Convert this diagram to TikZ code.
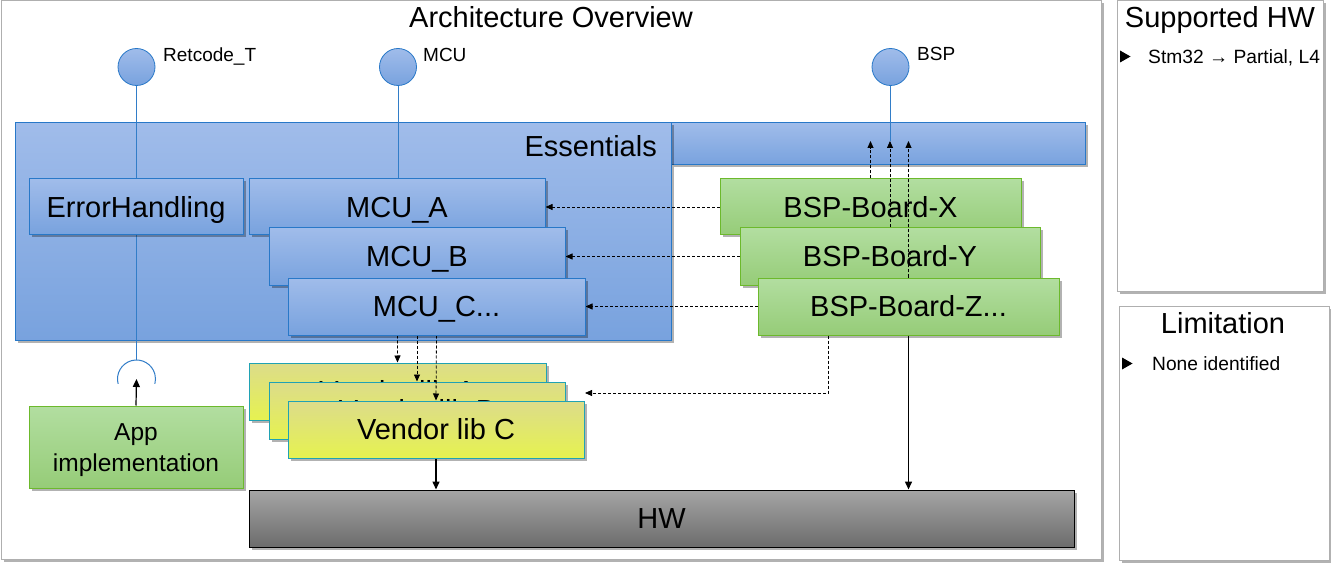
\documentclass[tikz,border=0pt]{standalone}
\usepackage{fontspec}
\setmainfont{Liberation Sans}
\usetikzlibrary{arrows.meta,shadows,calc}
\pgfdeclarelayer{bg}\pgfdeclarelayer{top}
\pgfsetlayers{bg,main,top}
\definecolor{bluetop}{RGB}{160,188,234}
\definecolor{bluebot}{RGB}{120,162,222}
\definecolor{blueedge}{RGB}{40,120,200}
\definecolor{lline}{RGB}{50,125,200}
\definecolor{greentop}{RGB}{178,222,160}
\definecolor{greenbot}{RGB}{150,204,120}
\definecolor{greenedge}{RGB}{108,185,44}
\definecolor{yeltop}{RGB}{220,220,138}
\definecolor{yelbot}{RGB}{230,242,80}
\definecolor{yeledge}{RGB}{32,162,180}
\definecolor{graytop}{RGB}{165,165,165}
\definecolor{graybot}{RGB}{108,108,108}
\definecolor{framegray}{RGB}{175,175,175}
\begin{document}
\begin{tikzpicture}[x=1pt,y=-1pt,
  shad/.style={drop shadow={shadow xshift=2.5pt,shadow yshift=-2.5pt,opacity=0.3,fill=black}},
  big/.style={font=\fontsize{29}{30}\selectfont},
  mid/.style={font=\fontsize{19.2}{23}\selectfont},
  small/.style={font=\fontsize{19}{22}\selectfont},
  lbl/.style={inner sep=0pt},
  box/.style={big,shad,draw,line width=1pt,inner sep=0pt,minimum height=56pt,text height=20.8pt,text depth=0pt,align=center},
  bluebox/.style={box,draw=blueedge,top color=bluetop,bottom color=bluebot},
  greenbox/.style={box,draw=greenedge,top color=greentop,bottom color=greenbot},
  yelbox/.style={box,draw=yeledge,top color=yeltop,bottom color=yelbot},
  graybox/.style={box,draw=black,top color=graytop,bottom color=graybot},
  frame/.style={shad,draw=framegray,fill=white,line width=1pt,inner sep=0pt},
  lolli/.style={circle,draw=blueedge,line width=0.8pt,top color=bluetop,bottom color=bluebot,minimum size=37pt,inner sep=0pt},
  lconn/.style={draw=lline,line width=1pt},
  darrow/.style={draw=black,line width=0.8pt,dash pattern=on 3pt off 2pt,-{Triangle[length=7pt,width=6pt]}},
  sarrow/.style={draw=black,line width=1.5pt,-{Triangle[length=8pt,width=7pt]}},
  bullet/.style={fill=black}
]
\useasboundingbox (0,0) rectangle (1331,564);

\begin{pgfonlayer}{bg}
  \node[frame,minimum width=1100pt,minimum height=558pt] (mainframe) at (551,280) {};
  \node[frame,minimum width=206pt,minimum height=290pt] (supframe) at (1220,146) {};
  \node[frame,minimum width=210pt,minimum height=254pt] (limframe) at (1224,433) {};
  \node[bluebox,minimum width=414pt,minimum height=42pt] (strip) at (878,144) {};
  \node[bluebox,minimum width=656pt,minimum height=217pt] (ess) at (343,231.5) {};
\end{pgfonlayer}

% titles
\node[big,lbl,anchor=base] (title) at (551,28) {Architecture Overview};
\node[big,lbl,anchor=base] (suptitle) at (1220,28) {Supported HW};
\node[big,lbl,anchor=base] (limtitle) at (1223,333) {Limitation};
\node[big,lbl,anchor=base east] (esslbl) at (657,157) {Essentials};
\fill[bullet] (1120,50.5) -- (1130.5,56.5) -- (1120,62.5) -- cycle;
\node[mid,lbl,anchor=base west] (supitem) at (1148,64) {Stm32 → Partial, L4};
\fill[bullet] (1122,357.5) -- (1132.5,363.5) -- (1122,369.5) -- cycle;
\node[mid,lbl,anchor=base west] (limitem) at (1152,370) {None identified};

% upper layer boxes
\begin{pgfonlayer}{top}
  \node[bluebox,minimum width=214pt] (eh) at (136,207) {ErrorHandling};
  \node[bluebox,minimum width=296pt] (mcua) at (397,207) {MCU\_A};
  \node[bluebox,minimum width=296pt,minimum height=57pt] (mcub) at (417,256.5) {MCU\_B};
  \node[bluebox,minimum width=297pt,minimum height=57pt] (mcuc) at (436.5,306.5) {MCU\_C...};
\end{pgfonlayer}

% lollipops
\node[lolli] (retl) at (136.5,67) {};
\node[lolli] (mcul) at (398,67) {};
\node[lolli] (bspl) at (890.5,67) {};
\node[small,lbl,anchor=base west] (retlbl) at (163,62) {Retcode\_T};
\node[small,lbl,anchor=base west] (mcullbl) at (423,62) {MCU};
\node[small,lbl,anchor=base west] (bsplbl) at (917,61) {BSP};

% vendor libs
\node[yelbox,minimum width=297pt,minimum height=57pt] (venda) at (397.5,391.5) {Vendor lib A};
\node[yelbox,minimum width=296pt,minimum height=57pt] (vendb) at (417,410.5) {Vendor lib B};
\node[yelbox,minimum width=296pt,minimum height=57pt] (vendc) at (436,429.5) {Vendor lib C};

% BSP boards
\node[greenbox,minimum width=301pt] (bspx) at (870.5,207) {BSP-Board-X};
\node[greenbox,minimum width=300pt,minimum height=57pt] (bspy) at (890,256.5) {BSP-Board-Y};
\node[greenbox,minimum width=301pt,minimum height=57pt] (bspz) at (908.5,306.5) {BSP-Board-Z...};

% HW and app
\node[graybox,minimum width=825pt,minimum height=57pt] (hw) at (661.5,518.5) {HW};
\node[greenbox,minimum width=214pt,minimum height=82pt,font=\fontsize{24.5}{31}\selectfont,text height=48.5pt,text depth=0pt] (app) at (136,447) {App\\implementation};

% coordinates
\coordinate (sock) at (136.5,379);
\coordinate (socktop) at (136.5,360);
\coordinate (bspin) at (890.5,141);
\coordinate (vendin) at (585,393);

% lollipop connectors
\draw[lconn] (retl.south) -- (socktop);
\draw[lconn] ([shift={(195:19pt)}]sock) arc[start angle=195,end angle=-15,radius=19pt];
\draw[lconn] (mcul.south) -- (mcul.south |- mcua.north);
\draw[lconn] (bspl.south) -- (bspin);

% app uses Retcode
\draw[sarrow,line width=1.2pt] (app.north) -- (sock);

% BSP boards -> MCUs
\draw[darrow] (bspx.west) -- (mcua.east);
\draw[darrow] (bspy.west) -- (mcub.east);
\draw[darrow] (bspz.west) -- (mcuc.east);

% BSP boards -> BSP interface
\draw[darrow] (bspx.north) -- (bspx.north |- bspin);
\draw[darrow] (bspy.north) -- (bspy.north |- bspin);
\draw[darrow] (bspz.north) -- (bspz.north |- bspin);

% MCUs -> vendor libs
\draw[darrow] (mcua.south) -- (venda.north);
\draw[darrow] (mcub.south) -- (vendb.north);
\draw[darrow] (mcuc.south) -- (vendc.north);

% BSP-Z -> vendor libs
\draw[darrow] ([xshift=71pt]bspz.south west) |- (vendin);

% to HW
\draw[sarrow] (vendc.south) -- (vendc.south |- hw.north);
\draw[sarrow] (bspz.south) -- (bspz.south |- hw.north);
\end{tikzpicture}
\end{document}
